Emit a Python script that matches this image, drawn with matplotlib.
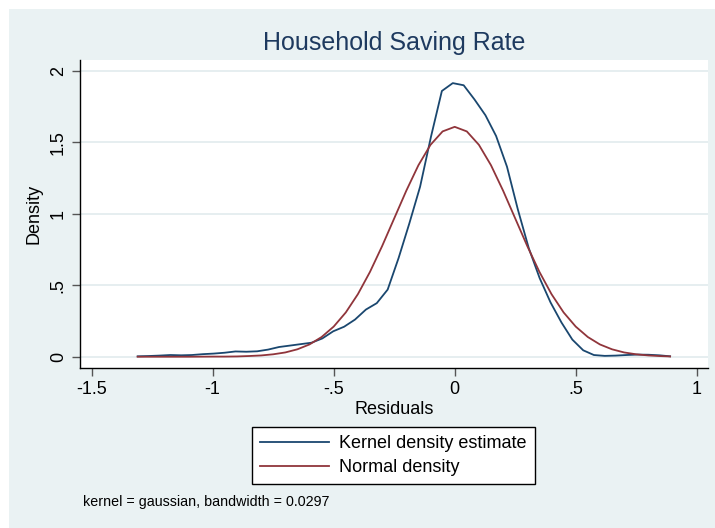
import matplotlib
matplotlib.use("Agg")
import matplotlib.pyplot as plt
from matplotlib.patches import Rectangle

plt.rcParams['font.family'] = ['Liberation Sans', 'DejaVu Sans']

# Kernel density estimate
kde_x = [-1.310, -1.265, -1.220, -1.175, -1.130, -1.086, -1.041, -0.996, -0.951, -0.906,
         -0.861, -0.816, -0.771, -0.726, -0.681, -0.637, -0.592, -0.547, -0.502, -0.457,
         -0.412, -0.367, -0.322, -0.277, -0.232, -0.188, -0.143, -0.098, -0.053, -0.008,
         0.037, 0.082, 0.127, 0.171, 0.216, 0.261, 0.306, 0.351, 0.396, 0.441,
         0.486, 0.531, 0.575, 0.620, 0.665, 0.710, 0.755, 0.800, 0.845, 0.890]
kde_y = [0.003, 0.005, 0.008, 0.012, 0.010, 0.012, 0.018, 0.022, 0.028, 0.037,
         0.035, 0.038, 0.050, 0.068, 0.078, 0.088, 0.098, 0.128, 0.178, 0.210,
         0.260, 0.330, 0.375, 0.470, 0.690, 0.930, 1.190, 1.540, 1.860, 1.915,
         1.900, 1.800, 1.690, 1.545, 1.330, 1.030, 0.760, 0.550, 0.380, 0.240,
         0.120, 0.045, 0.012, 0.006, 0.008, 0.012, 0.015, 0.014, 0.010, 0.003]

# Normal density
norm_x = [-1.31, -1.20, -1.10, -1.00, -0.95, -0.90, -0.85, -0.80, -0.75, -0.70, -0.65,
          -0.60, -0.55, -0.50, -0.45, -0.40, -0.35, -0.30, -0.25, -0.20, -0.15,
          -0.10, -0.05, 0.00, 0.05, 0.10, 0.15, 0.20, 0.25, 0.30, 0.35,
          0.40, 0.45, 0.50, 0.55, 0.60, 0.65, 0.70, 0.75, 0.80, 0.85, 0.89]
norm_y = [0.000, 0.000, 0.000, 0.001, 0.001, 0.002, 0.005, 0.009, 0.017, 0.030, 0.052,
          0.086, 0.138, 0.211, 0.310, 0.438, 0.594, 0.774, 0.968, 1.162, 1.340,
          1.483, 1.577, 1.609, 1.577, 1.483, 1.340, 1.162, 0.968, 0.774, 0.594,
          0.438, 0.310, 0.211, 0.138, 0.086, 0.052, 0.030, 0.017, 0.009, 0.0045, 0.002]

xticks = [-1.5, -1, -0.5, 0, 0.5, 1]
xtick_labels = ["-1.5", "-1", "-.5", "0", ".5", "1"]
yticks = [0, 0.5, 1, 1.5, 2]
ytick_labels = ["0", ".5", "1", "1.5", "2"]

W, H = 715, 528
BG = '#EAF2F3'
BLUE = '#1A476F'
RED = '#90353B'
GRID = '#E4EDEF'

fig = plt.figure(figsize=(W / 100, H / 100), dpi=100, facecolor='white')
fig.patches.append(Rectangle((9 / W, 0), 1 - 9 / W, 1 - 9 / H, transform=fig.transFigure,
                             facecolor=BG, edgecolor='none', zorder=-10))

ax = fig.add_axes([80 / W, 1 - 368 / H, (708 - 80) / W, (368 - 60) / H])
ax.set_facecolor('white')

l1, = ax.plot(kde_x, kde_y, color=BLUE, lw=1.3, label='Kernel density estimate', zorder=3)
l2, = ax.plot(norm_x, norm_y, color=RED, lw=1.3, label='Normal density', zorder=3)

x0 = -1.5 - (91.7 - 80) / 242.7
x1 = 1 + (708 - 696.7) / 242.7
ax.set_xlim(x0, x1)
y0 = -(368 - 356.7) / 143.3
y1 = 2 + (71.0 - 60) / 143.3
ax.set_ylim(y0, y1)

ax.set_xticks(xticks)
ax.set_xticklabels(xtick_labels)
ax.set_yticks(yticks)
ax.set_yticklabels(ytick_labels, rotation=90, va='center')
ax.tick_params(axis='both', direction='out', length=5.5, width=1, color='#555555',
               labelsize=13, labelcolor='black', pad=4)
ax.grid(axis='y', color=GRID, lw=1.3, zorder=0)
ax.grid(axis='x', visible=False)
for s in ['top', 'right']:
    ax.spines[s].set_visible(False)
for s in ['left', 'bottom']:
    ax.spines[s].set_color('black')
    ax.spines[s].set_linewidth(1)

ax.set_xlabel('Residuals', fontsize=13, labelpad=2)
ax.set_ylabel('Density', fontsize=13, labelpad=5)

fig.text(394 / W, 1 - 43 / H, 'Household Saving Rate', ha='center', va='center',
         fontsize=18, color='#1E3A5F')

leg = fig.legend(handles=[l1, l2], loc='upper center', bbox_to_anchor=(393.5 / W, 1 - 427 / H),
                 bbox_transform=fig.transFigure, fontsize=13, frameon=True, fancybox=False,
                 edgecolor='black', facecolor='white', framealpha=1, handlelength=3.8,
                 handletextpad=0.6, borderpad=0.45, labelspacing=0.4, borderaxespad=0)
leg.get_frame().set_linewidth(1)

fig.text(83 / W, 1 - 502 / H, 'kernel = gaussian, bandwidth = 0.0297', ha='left', va='center',
         fontsize=10.3, color='black')

fig.savefig('out.png', dpi=100, facecolor=fig.get_facecolor())
